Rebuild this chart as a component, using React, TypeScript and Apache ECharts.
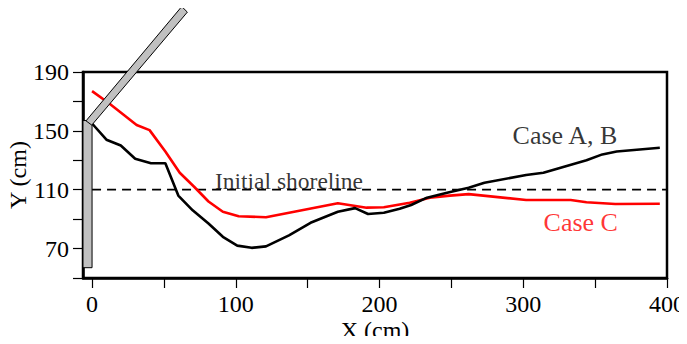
import React, { useEffect, useRef } from "react";
import * as echarts from "echarts";

const caseABx = [0, 10, 20, 30, 41, 51, 60, 70, 81, 91, 101, 111, 121, 137, 152, 171, 183, 192, 203, 214, 222, 233, 247, 262, 273, 302, 314, 332, 344, 355, 365, 395];
const caseABy = [155, 144, 140, 131, 128, 128, 106, 96, 87, 78, 72, 70.5, 71.5, 79, 87.5, 95, 97.5, 93.5, 94.3, 97, 99.6, 104.6, 108, 111.4, 114.7, 120, 121.5, 126.7, 130, 134, 136, 138.5];

const caseCx = [0, 12, 31, 40, 51, 61, 71, 81, 91, 102, 121, 171, 191, 203, 221, 235, 249, 262, 302, 333, 344, 364, 395];
const caseCy = [177, 168.6, 154, 150.5, 136, 121.5, 112, 102, 95, 92, 91.3, 100.8, 97.8, 98.1, 101.2, 104.6, 106, 107, 103, 103, 101.5, 100.3, 100.5];

const shoreX = [0, 400];
const shoreY = [110, 110];

const xTicks = [0, 50, 100, 150, 200, 250, 300, 350, 400];
const xLabels = [0, 100, 200, 300, 400];

const wallVertical = [[-6.3, 57], [0, 57], [0, 157], [-6.3, 157]];
const wallDiagonal = [[-4.2, 156.8], [62.4, 234.5], [66.3, 230.7], [-0.2, 153.9]];

const annotations = [
  { name: "Initial shoreline", x: 137, y: 116, size: 23.5, color: "#000" },
  { name: "Case A, B", x: 329, y: 147, size: 26, color: "#000" },
  { name: "Case C", x: 340, y: 87.4, size: 26, color: "#ff0000" },
];

const FONT = "Liberation Serif";

export default function App() {
  const ref = useRef<HTMLDivElement>(null);
  useEffect(() => {
    if (!ref.current) return;
    const chart = echarts.init(ref.current, null, { renderer: "svg" });
    const zip = (xs: number[], ys: number[]) => xs.map((x, i) => [x, ys[i]]);
    chart.setOption({
      animation: false,
      textStyle: { fontFamily: FONT },
      grid: {
        left: 83,
        right: 20,
        top: 72,
        bottom: 66,
        outerBoundsMode: "none",
        containLabel: false,
        show: true,
        borderColor: "#000",
        borderWidth: 2.5,
        backgroundColor: "transparent",
      },
      xAxis: {
        type: "value",
        min: -6.3,
        max: 400,
        name: "X (cm)",
        nameLocation: "middle",
        nameGap: 40,
        nameMoveOverlap: false,
        nameTextStyle: { fontFamily: FONT, fontSize: 24, color: "#000" },
        axisLine: { show: true, onZero: false, lineStyle: { color: "#000", width: 2.5 } },
        axisTick: { show: true, length: 10, customValues: xTicks, lineStyle: { color: "#000", width: 1.2 } },
        axisLabel: { customValues: xLabels, margin: 14, fontFamily: FONT, fontSize: 24, color: "#000" },
        splitLine: { show: false },
      },
      yAxis: {
        type: "value",
        min: 50,
        max: 190,
        interval: 20,
        name: "Y (cm)",
        nameLocation: "middle",
        nameGap: 53,
        nameMoveOverlap: false,
        nameTextStyle: { fontFamily: FONT, fontSize: 24, color: "#000" },
        axisLine: { show: true, onZero: false, lineStyle: { color: "#000", width: 2.5 } },
        axisTick: { show: true, length: 10, lineStyle: { color: "#000", width: 1.2 } },
        axisLabel: {
          margin: 14,
          fontFamily: FONT,
          fontSize: 24,
          color: "#000",
          formatter: (v: number) => ((v - 70) % 40 === 0 ? String(v) : ""),
        },
        splitLine: { show: false },
      },
      series: [
        {
          type: "line",
          data: zip(shoreX, shoreY),
          showSymbol: false,
          lineStyle: { color: "#000", width: 1.8, type: [9, 6] },
          z: 2,
        },
        {
          type: "line",
          name: "Case C",
          data: zip(caseCx, caseCy),
          showSymbol: false,
          lineStyle: { color: "#ff0000", width: 2.6 },
          z: 3,
        },
        {
          type: "line",
          name: "Case A, B",
          data: zip(caseABx, caseABy),
          showSymbol: false,
          lineStyle: { color: "#000", width: 2.6 },
          z: 4,
        },
        {
          type: "scatter",
          symbolSize: 0,
          data: annotations.map((a) => ({
            value: [a.x, a.y],
            name: a.name,
            label: {
              show: true,
              position: "inside",
              formatter: a.name,
              fontFamily: FONT,
              fontSize: a.size,
              color: a.color,
            },
          })),
          z: 5,
        },
        {
          type: "custom",
          clip: false,
          z: 10,
          data: [0],
          renderItem: (_params: any, api: any) => ({
            type: "group",
            children: [wallVertical, wallDiagonal].map((poly) => ({
              type: "polygon",
              shape: { points: poly.map((p) => api.coord(p)) },
              style: { fill: "#c0c0c0", stroke: "#000", lineWidth: 1 },
            })),
          }),
        },
      ],
    });
    return () => chart.dispose();
  }, []);
  return <div ref={ref} style={{ width: 687, height: 344, margin: -8 }} />;
}
